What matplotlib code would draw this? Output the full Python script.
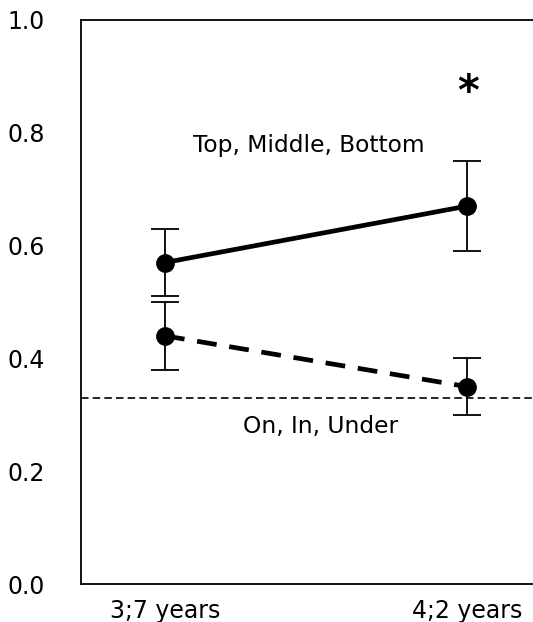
import matplotlib.pyplot as plt

ages = ["3;7 years", "4;2 years"]
tmb_mean = [0.57, 0.67]
tmb_upper = [0.63, 0.75]
tmb_lower = [0.51, 0.59]
oiu_mean = [0.44, 0.35]
oiu_upper = [0.50, 0.40]
oiu_lower = [0.38, 0.30]
chance = 0.33
yticks = [0.0, 0.2, 0.4, 0.6, 0.8, 1.0]

plt.rcParams["font.family"] = "DejaVu Sans"

fig = plt.figure(figsize=(5.33, 6.22), dpi=100)
ax = fig.add_axes([81 / 533, 38 / 622, 1 - 81 / 533, 564 / 622])

x = list(range(len(ages)))

def err(mean, lo, hi):
    return [[m - l for m, l in zip(mean, lo)], [h - m for m, h in zip(mean, hi)]]

ax.errorbar(x, tmb_mean, yerr=err(tmb_mean, tmb_lower, tmb_upper), color="black",
            lw=3.4, marker="o", ms=12.5, ecolor="black", elinewidth=1.3, capsize=10,
            capthick=1.3)
ax.errorbar(x, oiu_mean, yerr=err(oiu_mean, oiu_lower, oiu_upper), color="black",
            lw=3.4, ls=(0, (4.2, 2.7)), marker="o", ms=12.5, ecolor="black",
            elinewidth=1.3, capsize=10, capthick=1.3)
ax.axhline(chance, color="black", lw=1.2, ls=(0, (4.5, 2.5)))

ax.text(0.477, 0.777, "Top, Middle, Bottom", ha="center", va="center", fontsize=16.8)
ax.text(0.517, 0.28, "On, In, Under", ha="center", va="center", fontsize=16.8)
ax.text(1.003, 0.87, "*", ha="center", va="center", fontsize=30, fontweight="bold")

ax.set_xlim(-0.278, 1.219)
ax.set_ylim(0, 1)
ax.set_xticks(x, labels=ages)
ax.set_yticks(yticks, labels=[f"{v:.1f}" for v in yticks])
ax.tick_params(axis="y", length=0, pad=26, labelsize=17)
ax.tick_params(axis="x", length=0, pad=11, labelsize=17)
ax.spines["right"].set_visible(False)
for s in ["left", "top", "bottom"]:
    ax.spines[s].set_linewidth(1.3)

fig.savefig("out.png", dpi=100)
